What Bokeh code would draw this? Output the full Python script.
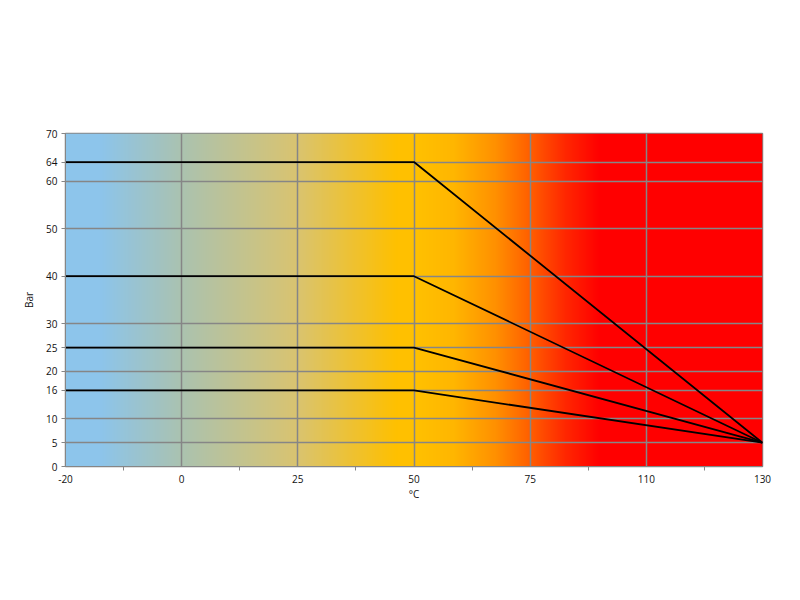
import numpy as np
from bokeh.plotting import figure
from bokeh.models import Range1d, FixedTicker
from bokeh.embed import file_html
from bokeh.resources import INLINE

# ---- data ----
x_labels = ["-20", "0", "25", "50", "75", "110", "130"]
y_ticks = [0, 5, 10, 16, 20, 25, 30, 40, 50, 60, 64, 70]
series_x = ["-20", "50", "130"]
series_64 = [64, 64, 5]
series_40 = [40, 40, 5]
series_25 = [25, 25, 5]
series_16 = [16, 16, 5]

# background gradient stops (position in category index, colour)
grad_pos = [0.0, 0.3, 1.0, 2.0, 2.85, 3.05, 3.35, 3.7, 4.0, 4.3, 4.6, 6.0]
grad_r = [141, 141, 171, 218, 255, 255, 255, 255, 255, 255, 255, 255]
grad_g = [197, 197, 194, 196, 192, 192, 182, 145, 95, 40, 0, 0]
grad_b = [235, 235, 176, 112, 0, 0, 0, 0, 0, 0, 0, 0]

FONT = "Open Sans"

p = figure(width=784, height=584, output_backend="svg", toolbar_location=None,
           x_range=Range1d(0, len(x_labels) - 1), y_range=Range1d(0, 70),
           min_border_left=65, min_border_right=22, min_border_top=133, min_border_bottom=118)

# gradient background
N = 700
xs = np.linspace(0, len(x_labels) - 1, N)
img = np.empty((1, N), dtype=np.uint32)
view = img.view(dtype=np.uint8).reshape((1, N, 4))
view[0, :, 0] = np.interp(xs, grad_pos, grad_r).astype(np.uint8)
view[0, :, 1] = np.interp(xs, grad_pos, grad_g).astype(np.uint8)
view[0, :, 2] = np.interp(xs, grad_pos, grad_b).astype(np.uint8)
view[0, :, 3] = 255
p.image_rgba(image=[img], x=0, y=0, dw=len(x_labels) - 1, dh=70, level="image")

# lines
xi = [x_labels.index(v) for v in series_x]
for s in (series_64, series_40, series_25, series_16):
    p.line(xi, s, line_color="black", line_width=1.8)

# axes
p.xaxis.ticker = FixedTicker(ticks=list(range(len(x_labels))),
                             minor_ticks=[i + 0.5 for i in range(len(x_labels) - 1)])
p.xaxis.major_label_overrides = {i: l for i, l in enumerate(x_labels)}
p.yaxis.ticker = FixedTicker(ticks=y_ticks)

for ax in (p.xaxis[0], p.yaxis[0]):
    ax.axis_line_color = "#868686"
    ax.axis_line_width = 1
    ax.major_tick_line_color = "#868686"
    ax.minor_tick_line_color = "#868686"
    ax.major_label_text_font = FONT
    ax.major_label_text_font_size = "10px"
    ax.major_label_text_color = "#111111"
    ax.axis_label_text_font = FONT
    ax.axis_label_text_font_size = "10px"
    ax.axis_label_text_font_style = "normal"
    ax.axis_label_text_color = "#111111"

p.xaxis.major_tick_in = 0
p.xaxis.major_tick_out = 0
p.xaxis.minor_tick_in = 0
p.xaxis.minor_tick_out = 4
p.xaxis.major_label_standoff = 4
p.xaxis.axis_label = "°C"
p.xaxis.axis_label_standoff = 1

p.yaxis.major_tick_in = 0
p.yaxis.major_tick_out = 4
p.yaxis.minor_tick_line_color = None
p.yaxis.major_label_standoff = 4
p.yaxis.axis_label = "Bar"
p.yaxis.axis_label_standoff = 7

# grid
p.xgrid.ticker = FixedTicker(ticks=list(range(1, len(x_labels) - 1)))
p.ygrid.ticker = FixedTicker(ticks=y_ticks[1:-1])
for g in (p.xgrid[0], p.ygrid[0]):
    g.grid_line_color = "#868686"
    g.grid_line_width = 1.5
    g.level = "underlay"

p.outline_line_color = "#868686"
p.outline_line_width = 1.5
p.background_fill_color = "white"
p.border_fill_color = "white"

open("out.html", "w").write(file_html(p, INLINE))
